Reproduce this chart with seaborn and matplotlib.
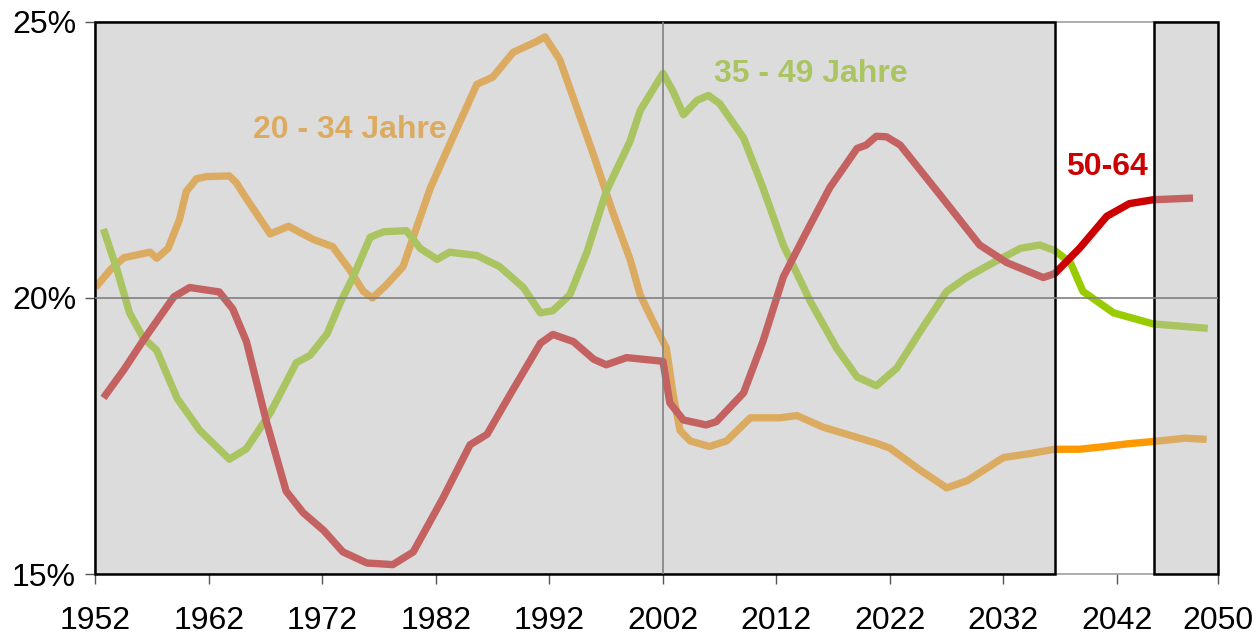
import pandas as pd
import matplotlib.pyplot as plt
import seaborn as sns
from matplotlib.patches import Rectangle

sns.set_style("white")
plt.rcParams["font.family"] = ["Liberation Sans", "DejaVu Sans"]

# 20 - 34 Jahre
years_20_34 = [1952.0, 1953.3, 1954.5, 1956.8, 1957.4, 1958.4, 1959.4, 1960.0, 1960.9, 1961.8,
               1963.8, 1964.4, 1965.3, 1967.4, 1969.0, 1971.2, 1972.9, 1974.4, 1975.6, 1976.4,
               1977.6, 1979.1, 1980.3, 1981.5, 1982.9, 1985.6, 1987.0, 1988.8, 1990.9, 1991.6,
               1992.9, 1995.9, 1997.6, 1999.1, 2000.0, 2000.9, 2002.3, 2002.9, 2003.5, 2004.4,
               2006.1, 2007.6, 2009.7, 2012.3, 2013.8, 2016.1, 2020.8, 2022.0, 2024.6, 2027.0,
               2028.8, 2032.0, 2034.3, 2036.5, 2038.7, 2041.0, 2043.0, 2045.2, 2048.0, 2049.9]
share_20_34 = [20.19, 20.51, 20.73, 20.83, 20.72, 20.90, 21.42, 21.93, 22.16, 22.20,
               22.21, 22.09, 21.80, 21.16, 21.30, 21.06, 20.93, 20.51, 20.12, 20.00,
               20.23, 20.57, 21.28, 21.99, 22.64, 23.87, 24.00, 24.45, 24.65, 24.73,
               24.32, 22.58, 21.54, 20.70, 20.05, 19.67, 19.09, 18.25, 17.60, 17.41,
               17.31, 17.41, 17.83, 17.83, 17.87, 17.66, 17.37, 17.28, 16.89, 16.56,
               16.69, 17.11, 17.18, 17.26, 17.26, 17.31, 17.36, 17.40, 17.46, 17.44]

# 35 - 49 Jahre
years_35_49 = [1952.7, 1953.9, 1955.0, 1956.2, 1957.4, 1959.2, 1961.2, 1963.8, 1965.3, 1967.4,
               1969.7, 1970.9, 1972.4, 1973.6, 1974.7, 1976.2, 1977.4, 1979.4, 1980.6, 1982.1,
               1983.2, 1985.6, 1987.6, 1989.7, 1991.2, 1992.3, 1993.8, 1995.3, 1997.0, 1999.1,
               2000.0, 2002.0, 2002.9, 2003.8, 2005.0, 2006.0, 2007.0, 2009.1, 2010.8, 2012.6,
               2015.0, 2017.3, 2019.1, 2020.8, 2022.6, 2024.9, 2027.0, 2028.8, 2031.1, 2033.5,
               2035.2, 2036.5, 2037.9, 2039.0, 2041.7, 2045.2, 2050.0]
share_35_49 = [21.25, 20.51, 19.73, 19.28, 19.05, 18.18, 17.60, 17.08, 17.27, 17.92,
               18.83, 18.96, 19.35, 19.93, 20.38, 21.10, 21.20, 21.22, 20.90, 20.70,
               20.83, 20.77, 20.57, 20.19, 19.73, 19.77, 20.06, 20.83, 21.93, 22.84,
               23.40, 24.07, 23.74, 23.32, 23.58, 23.67, 23.52, 22.90, 22.00, 20.96,
               19.93, 19.09, 18.57, 18.41, 18.73, 19.47, 20.12, 20.38, 20.64, 20.90,
               20.96, 20.86, 20.64, 20.12, 19.73, 19.53, 19.45]

# 50 - 64 Jahre
years_50_64 = [1952.7, 1954.5, 1956.2, 1958.9, 1960.3, 1962.9, 1964.1, 1965.3, 1967.1, 1968.8,
               1970.3, 1972.1, 1973.8, 1975.9, 1978.2, 1980.0, 1982.6, 1985.0, 1986.5, 1988.5,
               1991.2, 1992.3, 1994.1, 1995.9, 1997.0, 1998.8, 2001.7, 2002.0, 2002.6, 2003.8,
               2005.8, 2006.7, 2009.1, 2010.8, 2012.6, 2014.7, 2016.7, 2019.1, 2019.9, 2020.8,
               2021.7, 2022.9, 2026.4, 2029.9, 2032.3, 2035.5, 2036.5, 2038.7, 2041.1, 2043.1,
               2045.2, 2048.7]
share_50_64 = [18.19, 18.70, 19.23, 20.02, 20.19, 20.11, 19.80, 19.21, 17.73, 16.50,
               16.11, 15.79, 15.40, 15.20, 15.17, 15.40, 16.37, 17.34, 17.53, 18.24,
               19.18, 19.34, 19.21, 18.89, 18.79, 18.92, 18.86, 18.85, 18.10, 17.79,
               17.70, 17.76, 18.28, 19.21, 20.38, 21.22, 22.00, 22.71, 22.77, 22.93,
               22.92, 22.77, 21.87, 20.96, 20.64, 20.37, 20.44, 20.90, 21.48, 21.71,
               21.78, 21.81]

groups = ["20 - 34 Jahre", "35 - 49 Jahre", "50-64"]
colors = ["#FF9900", "#99CC00", "#CC0000"]

x_ticks = [1952, 1962, 1972, 1982, 1992, 2002, 2012, 2022, 2032, 2042]
x_end = 2050.9
shaded = [(1952, 2036.55), (2045.3, x_end)]

df = pd.concat([
    pd.DataFrame({"Jahr": years_20_34, "Anteil": share_20_34, "Gruppe": groups[0]}),
    pd.DataFrame({"Jahr": years_35_49, "Anteil": share_35_49, "Gruppe": groups[1]}),
    pd.DataFrame({"Jahr": years_50_64, "Anteil": share_50_64, "Gruppe": groups[2]}),
], ignore_index=True)

fig = plt.figure(figsize=(12.58, 6.37), dpi=100)
ax = fig.add_axes([0.0759, 0.0989, 0.8923, 0.8666])

sns.lineplot(data=df, x="Jahr", y="Anteil", hue="Gruppe", palette=dict(zip(groups, colors)),
             estimator=None, sort=False, linewidth=5.3, legend=False, ax=ax, zorder=2)
for line in ax.get_lines():
    line.set_solid_joinstyle("round")
    line.set_solid_capstyle("butt")

# labels, drawn below the translucent grey boxes like the lines
ax.text(1974.4, 23.05, groups[0], color=colors[0], fontsize=23, fontweight="bold",
        ha="center", va="center", zorder=2)
ax.text(2015.0, 24.05, groups[1], color=colors[1], fontsize=23, fontweight="bold",
        ha="center", va="center", zorder=2)
ax.text(2041.1, 22.38, groups[2], color=colors[2], fontsize=23, fontweight="bold",
        ha="center", va="center", zorder=2)

# translucent grey boxes over the lines
for x0, x1 in shaded:
    ax.add_patch(Rectangle((x0, 15), x1 - x0, 10, facecolor=(0.74, 0.74, 0.74, 0.52),
                           edgecolor="black", linewidth=1.8, zorder=3, clip_on=False))

ax.axhline(20, color="#808080", linewidth=1.2, zorder=4)
ax.axvline(2002, color="#808080", linewidth=1.2, zorder=4)

ax.set_xlim(1952, x_end)
ax.set_ylim(15, 25)
ax.set_xticks(x_ticks + [x_end])
ax.set_xticklabels([str(t) for t in x_ticks] + ["2050"])
ax.set_yticks([15, 20, 25])
ax.set_yticklabels(["15%", "20%", "25%"])
ax.set_xlabel("")
ax.set_ylabel("")
ax.grid(False)

for side in ax.spines.values():
    side.set_color("#A0A0A0")
    side.set_linewidth(1.2)

ax.tick_params(axis="x", direction="out", length=7, width=1, color="#555555",
               labelsize=23, labelcolor="black", pad=16, bottom=True)
ax.tick_params(axis="y", direction="out", length=7, width=1, color="#555555",
               labelsize=23, labelcolor="black", pad=7, left=True)

fig.savefig("out.png", dpi=100)
